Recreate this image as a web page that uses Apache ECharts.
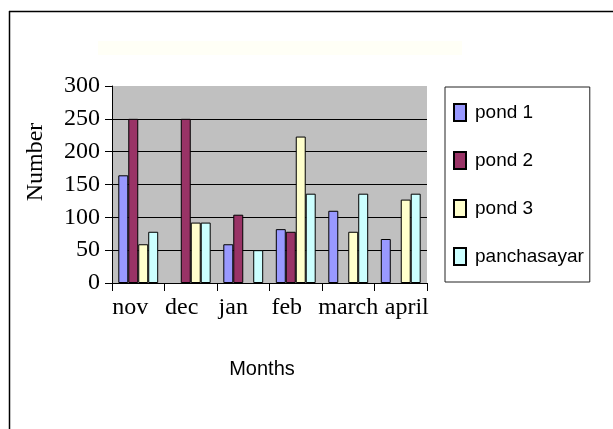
<!DOCTYPE html>
<html>
<head>
<meta charset="utf-8">
<script src="https://cdn.jsdelivr.net/npm/echarts@6/dist/echarts.min.js"></script>
<style>
html,body{margin:0;padding:0;background:#fff;}
#chart{width:613px;height:429px;}
</style>
</head>
<body>
<div id="chart"></div>
<script>
var categories = ['nov', 'dec', 'jan', 'feb', 'march', 'april'];
var pond1 = [164, null, 59, 82, 110, 67];
var pond2 = [250, 250, 104, 78, null, null];
var pond3 = [59, 92, null, 223, 78, 127];
var panchasayar = [78, 92, 50, 136, 136, 136];
var seriesNames = ['pond 1', 'pond 2', 'pond 3', 'panchasayar'];
var yTicks = [0, 50, 100, 150, 200, 250, 300];

// horizontal nudge (px) of each month label, as in the original layout
var labelShift = [-8, -9, -10, -9, 0, 6];

var colors = ['#9999FF', '#993366', '#FFFFCC', '#CCFFFF'];
var serif = "'Liberation Serif', 'Times New Roman', serif";
var sans = "'Liberation Sans', Arial, sans-serif";

var chart = echarts.init(document.getElementById('chart'), null, {renderer: 'canvas'});

function bar(name, data, color) {
  return {
    name: name,
    type: 'bar',
    data: data,
    barGap: '0%',
    barCategoryGap: '24%',
    itemStyle: {color: color, borderColor: '#000', borderWidth: 1},
    emphasis: {disabled: true}
  };
}

var catData = categories.map(function (c, i) {
  var s = labelShift[i];
  return {
    value: c,
    textStyle: {padding: s < 0 ? [0, -2 * s, 0, 0] : [0, 0, 0, 2 * s]}
  };
});

chart.setOption({
  animation: false,
  backgroundColor: '#fff',
  grid: {
    left: 112, right: 186, top: 86, bottom: 146,
    show: true, backgroundColor: '#C0C0C0', borderWidth: 0
  },
  legend: {
    orient: 'vertical',
    left: 445, top: 87,
    data: seriesNames,
    icon: 'rect',
    itemWidth: 12, itemHeight: 17,
    itemGap: 29,
    padding: [16, 6, 16, 8],
    borderColor: '#222', borderWidth: 1,
    textStyle: {fontFamily: sans, fontSize: 19, color: '#000', padding: [0, 0, 0, 4]},
    selectedMode: false
  },
  xAxis: {
    type: 'category',
    data: catData,
    axisLine: {show: true, lineStyle: {color: '#000', width: 1}},
    axisTick: {show: true, length: 8, lineStyle: {color: '#000'}},
    axisLabel: {interval: 0, fontFamily: serif, fontSize: 24, color: '#000', margin: 13},
    splitLine: {show: false}
  },
  yAxis: {
    type: 'value',
    min: yTicks[0], max: yTicks[yTicks.length - 1], interval: 50,
    axisLine: {show: true, lineStyle: {color: '#000', width: 1}},
    axisTick: {show: true, length: 7, lineStyle: {color: '#000'}},
    axisLabel: {fontFamily: serif, fontSize: 24, color: '#000', margin: 12},
    splitLine: {show: true, showMaxLine: false, lineStyle: {color: '#000', width: 1}}
  },
  series: [
    bar(seriesNames[0], pond1, colors[0]),
    bar(seriesNames[1], pond2, colors[1]),
    bar(seriesNames[2], pond3, colors[2]),
    bar(seriesNames[3], panchasayar, colors[3])
  ],
  graphic: [
    {type: 'rect', silent: true, z: -1, shape: {x: 98, y: 41, width: 364, height: 14}, style: {fill: '#FFFFF6'}},
    {type: 'line', silent: true, shape: {x1: 9, y1: 11.5, x2: 613, y2: 11.5}, style: {stroke: '#000', lineWidth: 1.5}},
    {type: 'line', silent: true, shape: {x1: 9.5, y1: 11, x2: 9.5, y2: 429}, style: {stroke: '#000', lineWidth: 1.5}},
    {type: 'text', silent: true, x: 36, y: 162, rotation: Math.PI / 2,
     style: {text: 'Number', fontFamily: serif, fontSize: 24, fill: '#000', align: 'center', verticalAlign: 'middle'}},
    {type: 'text', silent: true, x: 262, y: 369,
     style: {text: 'Months', fontFamily: sans, fontSize: 20, fill: '#000', align: 'center', verticalAlign: 'middle'}}
  ]
});
</script>
</body>
</html>
